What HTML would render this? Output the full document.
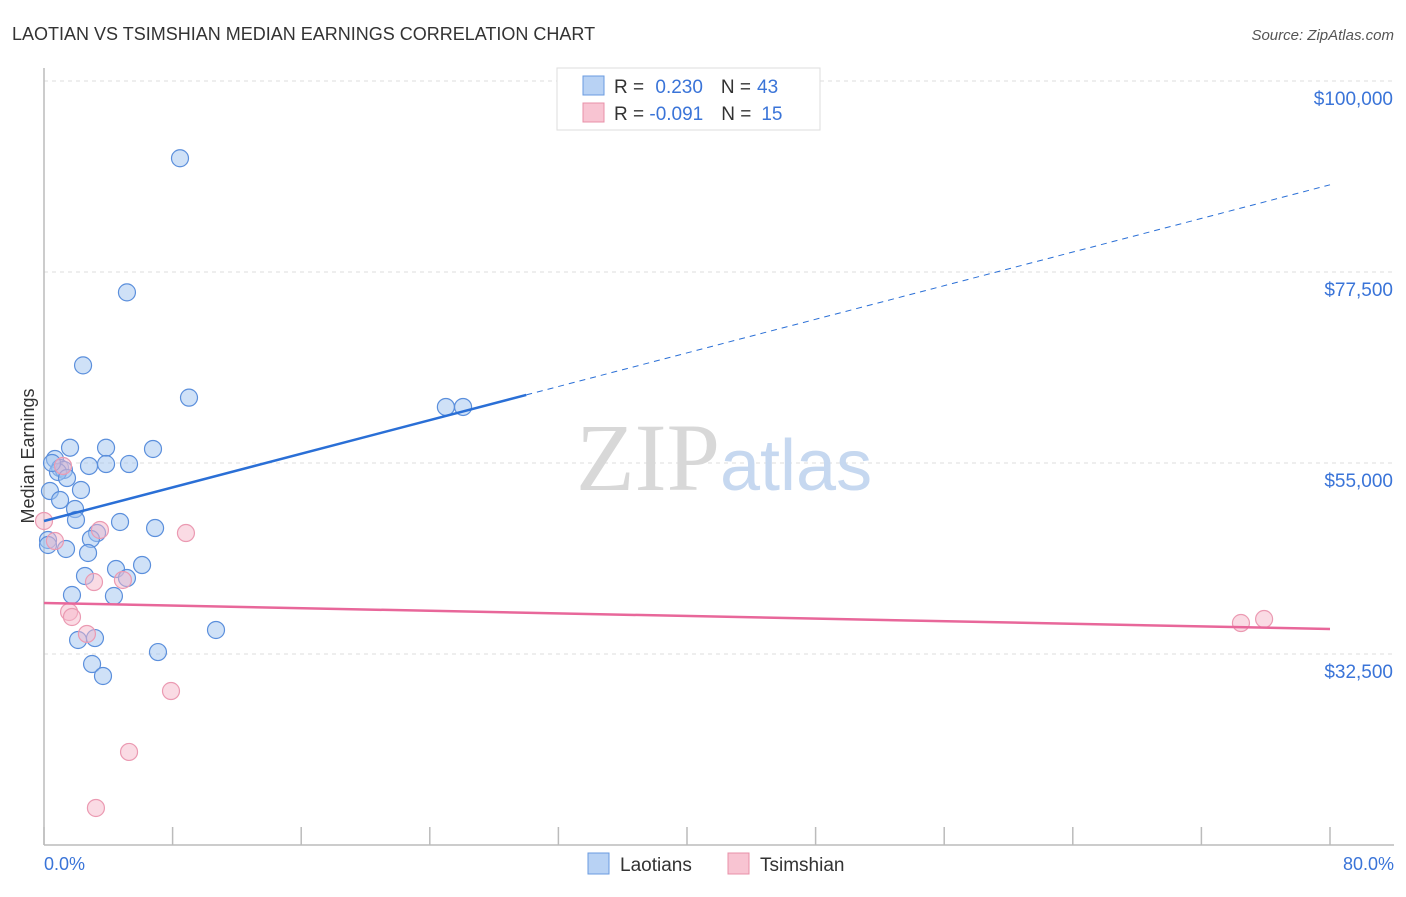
<!DOCTYPE html>
<html><head><meta charset="utf-8"><style>
body{margin:0;background:#fff;font-family:"Liberation Sans",sans-serif}
</style></head><body>
<svg width="1406" height="892" xmlns="http://www.w3.org/2000/svg">
<text x="12" y="40" font-size="18" fill="#333">LAOTIAN VS TSIMSHIAN MEDIAN EARNINGS CORRELATION CHART</text>
<text x="1394" y="40" font-size="15" fill="#555" font-style="italic" text-anchor="end">Source: ZipAtlas.com</text>
<g id="grid"></g>
<text x="720" y="490" font-size="96" font-family="Liberation Serif" fill="#d8d8d8" text-anchor="end">ZIP</text>
<text x="720" y="490" font-size="72" fill="#c6d8f0">atlas</text>
<line x1="44" y1="68" x2="44" y2="845" stroke="#bbb" stroke-width="1.5"/>
<line x1="44" y1="845" x2="1394" y2="845" stroke="#bbb" stroke-width="1.5"/>
<text transform="translate(34,456) rotate(-90)" font-size="18" fill="#333" text-anchor="middle">Median Earnings</text>
<text x="44" y="870" font-size="18" fill="#3a74d8">0.0%</text>
<text x="1394" y="870" font-size="18" fill="#3a74d8" text-anchor="end">80.0%</text>
<g id="marks"></g>
<g>
<rect x="557" y="68" width="263" height="62" fill="#fff" stroke="#ddd"/>
<rect x="583" y="76" width="21" height="19" fill="#b8d2f4" stroke="#6a9be0"/>
<rect x="583" y="103" width="21" height="19" fill="#f8c4d2" stroke="#e890a8"/>
<text x="614" y="93" font-size="19" fill="#333">R = <tspan fill="#3a74d8" dx="6">0.230</tspan><tspan dx="18" fill="#333">N =</tspan><tspan dx="6" fill="#3a74d8">43</tspan></text>
<text x="614" y="120" font-size="19" fill="#333">R = <tspan fill="#3a74d8" dx="0">-0.091</tspan><tspan dx="18" fill="#333">N =</tspan><tspan dx="10" fill="#3a74d8">15</tspan></text>
</g>
<rect x="588" y="853" width="21" height="21" fill="#b8d2f4" stroke="#6a9be0"/>
<text x="620" y="871" font-size="19" fill="#333">Laotians</text>
<rect x="728" y="853" width="21" height="21" fill="#f8c4d2" stroke="#e890a8"/>
<text x="760" y="871" font-size="19" fill="#333">Tsimshian</text>
</svg>
<script>
const yTicks=[32500,55000,77500,100000];
const yTickLabels=["$32,500","$55,000","$77,500","$100,000"];
const xTicks=[0,8,16,24,32,40,48,56,64,72,80];
const blueX=[8.46,5.16,2.43,9.02,25.0,26.07,1.62,3.86,6.78,0.68,2.80,3.86,5.29,1.0,1.24,0.87,1.43,0.37,2.30,1.0,1.93,1.99,4.73,6.91,3.30,2.92,1.37,0.25,2.74,4.48,6.10,2.55,5.16,1.74,4.35,10.70,2.12,3.17,7.09,2.99,3.67,0.5,0.25];
const blueY=[90900,75100,66500,62700,61600,61600,56800,56800,56650,55470,54650,54880,54880,54410,54180,53940,53230,51700,51820,50640,49580,48290,48050,47340,46750,46050,44870,45930,44400,42510,42980,41690,41450,39450,39330,35330,34150,34380,32730,31320,29910,55000,45340];
const pinkX=[0.0,0.68,3.48,8.83,3.11,4.91,1.56,1.74,2.67,7.90,5.29,3.23,74.46,75.9,1.18];
const pinkY=[48170,45810,47110,46750,40980,41220,37450,36860,34860,28140,20960,14360,36150,36620,54650];
const blueTrend=[48170,495];  // intercept, slope per %
const pinkTrend=[38510,-38.3];
const NS="http://www.w3.org/2000/svg";
const sx=v=>44+v*(1286/80);
const sy=v=>463-(v-55000)*191/22500;
function mk(tag,attrs,parent){const e=document.createElementNS(NS,tag);for(const k in attrs)e.setAttribute(k,attrs[k]);parent.appendChild(e);return e;}
const grid=document.getElementById('grid'),marks=document.getElementById('marks');
yTicks.forEach((t,i)=>{
 const l=mk('line',{x1:44,x2:1394,y1:sy(t),y2:sy(t),stroke:'#ddd','stroke-dasharray':'4,4'},grid);
 
 
 const tx=mk('text',{x:1393,y:sy(t)+24,'font-size':19,fill:'#3a74d8','text-anchor':'end'},grid);
 tx.textContent=yTickLabels[i];
 
 
});
xTicks.forEach(t=>{
 const l=mk('line',{x1:sx(t),x2:sx(t),y1:827,y2:845,stroke:'#bbb','stroke-width':1.5},grid);
 
 
});
blueX.forEach((x,i)=>{
 const c=mk('circle',{cx:sx(x),cy:sy(blueY[i]),r:8.5,fill:'rgba(160,196,240,0.5)',stroke:'#5b8fdc','stroke-width':1.2},marks);
 
 
});
pinkX.forEach((x,i)=>{
 const c=mk('circle',{cx:sx(x),cy:sy(pinkY[i]),r:8.5,fill:'rgba(246,184,202,0.5)',stroke:'#eb9ab2','stroke-width':1.2},marks);
 
 
});
const bt=x=>blueTrend[0]+blueTrend[1]*x, pt=x=>pinkTrend[0]+pinkTrend[1]*x;
let l=mk('line',{x1:sx(0),y1:sy(bt(0)),x2:sx(30),y2:sy(bt(30)),stroke:'#2a6fd6','stroke-width':2.5},marks);


l=mk('line',{x1:sx(30),y1:sy(bt(30)),x2:sx(80),y2:sy(bt(80)),stroke:'#2a6fd6','stroke-width':1,'stroke-dasharray':'6,5'},marks);


l=mk('line',{x1:sx(0),y1:sy(pt(0)),x2:sx(80),y2:sy(pt(80)),stroke:'#e8679a','stroke-width':2.5},marks);


</script>
</body></html>
